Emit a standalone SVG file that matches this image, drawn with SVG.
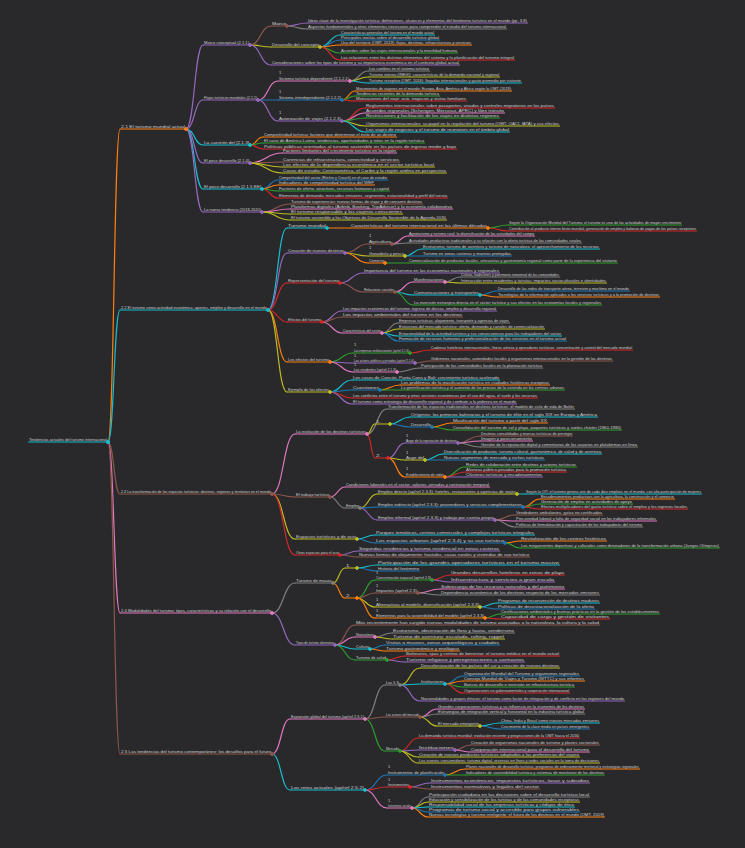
<svg xmlns="http://www.w3.org/2000/svg" width="745" height="848" viewBox="0 0 745 848">
<style>
.b{stroke:#1f77b4;fill:#1f77b4}.o{stroke:#ff7f0e;fill:#ff7f0e}.g{stroke:#2ca02c;fill:#2ca02c}.r{stroke:#d62728;fill:#d62728}.p{stroke:#9467bd;fill:#9467bd}.br{stroke:#8c564b;fill:#8c564b}.pk{stroke:#e377c2;fill:#e377c2}.gy{stroke:#7f7f7f;fill:#7f7f7f}.y{stroke:#bcbd22;fill:#bcbd22}.c{stroke:#17becf;fill:#17becf}
.l{fill:none;stroke-width:1.2;stroke-linecap:round}
.u{fill:none;stroke-width:1}
circle{stroke:none}
text{font-family:"Liberation Sans",Arial,sans-serif;font-size:4.4px;fill:#d0d0d0;stroke:none}
.n1{font-size:4px}
</style>
<rect width="745" height="848" fill="#29292b"/>
<g id="connectors">
<path class="l o" d="M108 442C114 442 114 129 120 129"/>
<path class="l c" d="M108 442C114 442 114 310 120 310"/>
<path class="l br" d="M108 442C114 442 114 494 120 494"/>
<path class="l pk" d="M108 442C114 442 114 613 120 613"/>
<path class="l br" d="M108 442C114 442 114 754 120 754"/>
<path class="l p" d="M186 129C194.5 129 194.5 45 203 45"/>
<path class="l p" d="M186 129C194.5 129 194.5 100 203 100"/>
<path class="l c" d="M186 129C194.5 129 194.5 145 203 145"/>
<path class="l p" d="M186 129C194.5 129 194.5 163 203 163"/>
<path class="l c" d="M186 129C194.5 129 194.5 189 203 189"/>
<path class="l p" d="M186 129C194.5 129 194.5 212 203 212"/>
<path class="l br" d="M250 45C260.5 45 260.5 26 271 26"/>
<path class="l y" d="M250 45C260.5 45 260.5 47 271 47"/>
<path class="l p" d="M250 45C260.5 45 260.5 65 271 65"/>
<path class="l p" d="M287 26C297 26 297 23 307 23"/>
<path class="l gy" d="M287 26C297 26 297 29 307 29"/>
<path class="l c" d="M320 47C330 47 330 35 340 35"/>
<path class="l b" d="M320 47C330 47 330 40 340 40"/>
<path class="l o" d="M320 47C330 47 330 45 340 45"/>
<path class="l g" d="M320 47C330 47 330 53 340 53"/>
<path class="l r" d="M320 47C330 47 330 60 340 60"/>
<path class="l pk" d="M258 100C268 100 268 81 278 81"/>
<path class="l b" d="M258 100H278"/>
<path class="l p" d="M258 100C268 100 268 121 278 121"/>
<path class="l gy" d="M350 81C359 81 359 71 368 71"/>
<path class="l y" d="M350 81C359 81 359 77 368 77"/>
<path class="l c" d="M350 81C359 81 359 83 368 83"/>
<path class="l o" d="M342 100C348.5 100 348.5 91 355 91"/>
<path class="l g" d="M342 100C348.5 100 348.5 96 355 96"/>
<path class="l r" d="M342 100C348.5 100 348.5 101 355 101"/>
<path class="l r" d="M342 121C353.5 121 353.5 108 365 108"/>
<path class="l pk" d="M342 121C353.5 121 353.5 113 365 113"/>
<path class="l g" d="M342 121C353.5 121 353.5 118 365 118"/>
<path class="l y" d="M342 121C353.5 121 353.5 126 365 126"/>
<path class="l c" d="M342 121C353.5 121 353.5 132 365 132"/>
<path class="l o" d="M250 145C256.5 145 256.5 137 263 137"/>
<path class="l g" d="M250 145C256.5 145 256.5 143 263 143"/>
<path class="l r" d="M250 145C256.5 145 256.5 149 263 149"/>
<path class="l pk" d="M250 163C266 163 266 153 282 153"/>
<path class="l br" d="M250 163C266 163 266 162 282 162"/>
<path class="l y" d="M250 163C266 163 266 167 282 167"/>
<path class="l y" d="M250 163C266 163 266 173 282 173"/>
<path class="l b" d="M262 189C270 189 270 180 278 180"/>
<path class="l o" d="M262 189C270 189 270 185 278 185"/>
<path class="l g" d="M262 189C270 189 270 191 278 191"/>
<path class="l r" d="M262 189C270 189 270 198 278 198"/>
<path class="l br" d="M262 212C276 212 276 204 290 204"/>
<path class="l pk" d="M262 212C276 212 276 209 290 209"/>
<path class="l y" d="M262 212C276 212 276 214 290 214"/>
<path class="l y" d="M262 212C276 212 276 220 290 220"/>
<path class="l c" d="M268 310C277.5 310 277.5 228 287 228"/>
<path class="l p" d="M268 310C277.5 310 277.5 253 287 253"/>
<path class="l r" d="M268 310C277.5 310 277.5 283 287 283"/>
<path class="l r" d="M268 310C277.5 310 277.5 322 287 322"/>
<path class="l o" d="M268 310C277.5 310 277.5 362 287 362"/>
<path class="l y" d="M268 310C277.5 310 277.5 392 287 392"/>
<path class="l o" d="M327 228H350"/>
<path class="l g" d="M488 228C498 228 498 225 508 225"/>
<path class="l r" d="M488 228C498 228 498 231 508 231"/>
<path class="l br" d="M345 253C356.5 253 356.5 244 368 244"/>
<path class="l y" d="M345 253C356.5 253 356.5 256 368 256"/>
<path class="l o" d="M345 253C356.5 253 356.5 263 368 263"/>
<path class="l pk" d="M392 244C400 244 400 236 408 236"/>
<path class="l gy" d="M392 244C400 244 400 243 408 243"/>
<path class="l c" d="M405 256C413.5 256 413.5 249 422 249"/>
<path class="l b" d="M405 256H422"/>
<path class="l g" d="M385 263H408"/>
<path class="l p" d="M340 283C351.5 283 351.5 273 363 273"/>
<path class="l br" d="M340 283C351.5 283 351.5 292 363 292"/>
<path class="l pk" d="M395 292C404 292 404 282 413 282"/>
<path class="l c" d="M395 292C404 292 404 295 413 295"/>
<path class="l g" d="M395 292C404 292 404 305 413 305"/>
<path class="l gy" d="M445 282C452.5 282 452.5 277 460 277"/>
<path class="l y" d="M445 282C452.5 282 452.5 283 460 283"/>
<path class="l b" d="M480 295C488.5 295 488.5 291 497 291"/>
<path class="l o" d="M480 295C488.5 295 488.5 297 497 297"/>
<path class="l p" d="M322 322C332 322 332 311 342 311"/>
<path class="l br" d="M322 322C332 322 332 317 342 317"/>
<path class="l pk" d="M322 322C332 322 332 333 342 333"/>
<path class="l gy" d="M382 333C390 333 390 323 398 323"/>
<path class="l y" d="M382 333C390 333 390 329 398 329"/>
<path class="l c" d="M382 333C390 333 390 336 398 336"/>
<path class="l b" d="M382 333C390 333 390 341 398 341"/>
<path class="l g" d="M330 362C341.5 362 341.5 353 353 353"/>
<path class="l p" d="M330 362C341.5 362 341.5 363 353 363"/>
<path class="l pk" d="M330 362C341.5 362 341.5 372 353 372"/>
<path class="l r" d="M410 353C420 353 420 350 430 350"/>
<path class="l br" d="M415 363C422.5 363 422.5 361 430 361"/>
<path class="l gy" d="M397 372C408.5 372 408.5 368 420 368"/>
<path class="l c" d="M330 392C341 392 341 380 352 380"/>
<path class="l b" d="M330 392C341 392 341 390 352 390"/>
<path class="l r" d="M330 392C341 392 341 398 352 398"/>
<path class="l p" d="M330 392C341 392 341 404 352 404"/>
<path class="l o" d="M380 390C390 390 390 385 400 385"/>
<path class="l g" d="M380 390H400"/>
<path class="l pk" d="M272 494C283.5 494 283.5 434 295 434"/>
<path class="l br" d="M272 494C283.5 494 283.5 497 295 497"/>
<path class="l y" d="M272 494C283.5 494 283.5 539 295 539"/>
<path class="l r" d="M272 494C283.5 494 283.5 555 295 555"/>
<path class="l gy" d="M367 434C377 434 377 409 387 409"/>
<path class="l y" d="M367 434C371 434 371 424 375 424"/>
<path class="l r" d="M367 434C371 434 371 458 375 458"/>
<path class="l c" d="M390 424C400 424 400 417 410 417"/>
<path class="l b" d="M390 424C400 424 400 427 410 427"/>
<path class="l o" d="M432 427C442 427 442 423 452 423"/>
<path class="l g" d="M432 427C442 427 442 430 452 430"/>
<path class="l p" d="M388 458C396.5 458 396.5 443 405 443"/>
<path class="l y" d="M388 458C396.5 458 396.5 460 405 460"/>
<path class="l o" d="M388 458C396.5 458 396.5 477 405 477"/>
<path class="l br" d="M458 443C469 443 469 436 480 436"/>
<path class="l pk" d="M458 443C469 443 469 441 480 441"/>
<path class="l gy" d="M458 443C469 443 469 447 480 447"/>
<path class="l c" d="M425 460C434 460 434 454 443 454"/>
<path class="l b" d="M425 460H443"/>
<path class="l g" d="M445 477C455 477 455 467 465 467"/>
<path class="l r" d="M445 477C455 477 455 472 465 472"/>
<path class="l p" d="M445 477H465"/>
<path class="l pk" d="M330 497C337.5 497 337.5 487 345 487"/>
<path class="l gy" d="M330 497C337.5 497 337.5 508 345 508"/>
<path class="l y" d="M360 508C368.5 508 368.5 494 377 494"/>
<path class="l b" d="M360 508C368.5 508 368.5 507 377 507"/>
<path class="l p" d="M360 508C368.5 508 368.5 520 377 520"/>
<path class="l c" d="M517 494H525"/>
<path class="l o" d="M523 507C531.5 507 531.5 499 540 499"/>
<path class="l g" d="M523 507C531.5 507 531.5 504 540 504"/>
<path class="l r" d="M523 507C531.5 507 531.5 509 540 509"/>
<path class="l br" d="M495 520C505 520 505 515 515 515"/>
<path class="l pk" d="M495 520C505 520 505 521 515 521"/>
<path class="l gy" d="M495 520C505 520 505 527 515 527"/>
<path class="l c" d="M357 539C366 539 366 535 375 535"/>
<path class="l b" d="M357 539C366 539 366 543 375 543"/>
<path class="l o" d="M505 543C512.5 543 512.5 541 520 541"/>
<path class="l g" d="M505 543C512.5 543 512.5 548 520 548"/>
<path class="l p" d="M340 555C349 555 349 551 358 551"/>
<path class="l br" d="M340 555C349 555 349 557 358 557"/>
<path class="l gy" d="M272 613C283.5 613 283.5 583 295 583"/>
<path class="l p" d="M272 613C283.5 613 283.5 645 295 645"/>
<path class="l y" d="M333 583C339 583 339 568 345 568"/>
<path class="l o" d="M333 583C339 583 339 598 345 598"/>
<path class="l c" d="M357 568C367 568 367 565 377 565"/>
<path class="l b" d="M357 568C367 568 367 571 377 571"/>
<path class="l g" d="M357 598C366 598 366 580 375 580"/>
<path class="l br" d="M357 598C366 598 366 593 375 593"/>
<path class="l y" d="M357 598C366 598 366 607 375 607"/>
<path class="l o" d="M357 598C366 598 366 618 375 618"/>
<path class="l r" d="M432 580C441 580 441 575 450 575"/>
<path class="l p" d="M432 580C441 580 441 582 450 582"/>
<path class="l pk" d="M418 593C429 593 429 589 440 589"/>
<path class="l gy" d="M418 593C429 593 429 595 440 595"/>
<path class="l c" d="M480 607C488.5 607 488.5 603 497 603"/>
<path class="l b" d="M480 607C488.5 607 488.5 609 497 609"/>
<path class="l g" d="M485 618C492.5 618 492.5 614 500 614"/>
<path class="l r" d="M485 618C492.5 618 492.5 619 500 619"/>
<path class="l br" d="M335 645C345 645 345 625 355 625"/>
<path class="l pk" d="M335 645C345 645 345 637 355 637"/>
<path class="l c" d="M335 645C345 645 345 649 355 649"/>
<path class="l g" d="M335 645C345 645 345 660 355 660"/>
<path class="l gy" d="M375 637C383.5 637 383.5 633 392 633"/>
<path class="l y" d="M375 637C383.5 637 383.5 639 392 639"/>
<path class="l b" d="M370 649C377.5 649 377.5 645 385 645"/>
<path class="l o" d="M370 649C377.5 649 377.5 651 385 651"/>
<path class="l r" d="M387 660C396 660 396 656 405 656"/>
<path class="l p" d="M387 660C396 660 396 662 405 662"/>
<path class="l pk" d="M272 754C281 754 281 719 290 719"/>
<path class="l c" d="M272 754C281 754 281 790 290 790"/>
<path class="l gy" d="M365 719C375 719 375 685 385 685"/>
<path class="l br" d="M365 719C375 719 375 717 385 717"/>
<path class="l g" d="M365 719C375 719 375 751 385 751"/>
<path class="l y" d="M400 685C410 685 410 668 420 668"/>
<path class="l c" d="M400 685C410 685 410 684 420 684"/>
<path class="l p" d="M400 685C410 685 410 701 420 701"/>
<path class="l b" d="M445 684C454 684 454 676 463 676"/>
<path class="l o" d="M445 684C454 684 454 681 463 681"/>
<path class="l g" d="M445 684C454 684 454 687 463 687"/>
<path class="l r" d="M445 684C454 684 454 693 463 693"/>
<path class="l pk" d="M420 717C428.5 717 428.5 709 437 709"/>
<path class="l gy" d="M420 717C428.5 717 428.5 714 437 714"/>
<path class="l y" d="M420 717C428.5 717 428.5 726 437 726"/>
<path class="l c" d="M480 726C490 726 490 723 500 723"/>
<path class="l b" d="M480 726C490 726 490 729 500 729"/>
<path class="l r" d="M400 751C409 751 409 738 418 738"/>
<path class="l p" d="M400 751C409 751 409 750 418 750"/>
<path class="l y" d="M400 751C409 751 409 757 418 757"/>
<path class="l y" d="M400 751C409 751 409 763 418 763"/>
<path class="l br" d="M455 750C462.5 750 462.5 745 470 745"/>
<path class="l pk" d="M455 750C462.5 750 462.5 752 470 752"/>
<path class="l b" d="M365 790C376 790 376 775 387 775"/>
<path class="l r" d="M365 790C376 790 376 787 387 787"/>
<path class="l pk" d="M365 790C376 790 376 808 387 808"/>
<path class="l o" d="M445 775C455 775 455 769 465 769"/>
<path class="l g" d="M445 775H465"/>
<path class="l p" d="M410 787C420 787 420 783 430 783"/>
<path class="l br" d="M410 787C420 787 420 789 430 789"/>
<path class="l gy" d="M412 808C420 808 420 797 428 797"/>
<path class="l y" d="M412 808C420 808 420 802 428 802"/>
<path class="l c" d="M412 808C420 808 420 807 428 807"/>
<path class="l b" d="M412 808C420 808 420 812 428 812"/>
<path class="l o" d="M412 808C420 808 420 817 428 817"/>
</g>
<g id="root"><path class="u c" d="M28 442H108"/><text x="29" y="440.6" textLength="78" lengthAdjust="spacingAndGlyphs">Tendencias actuales del turismo internacional</text><circle class="c" cx="108" cy="442" r="1.6"/></g>
<g id="A"><path class="u o" d="M120 129H186"/><text x="121" y="127.6" textLength="64" lengthAdjust="spacingAndGlyphs">2.1 El turismo mundial actual</text><circle class="o" cx="186" cy="129" r="1.5"/></g>
<g id="A1"><path class="u p" d="M203 45H250"/><text x="204" y="43.6" textLength="45" lengthAdjust="spacingAndGlyphs">Marco conceptual (2.1.1)</text><circle class="p" cx="250" cy="45" r="1.5"/></g>
<g id="A1a"><path class="u br" d="M271 26H287"/><text x="272" y="24.6" textLength="14" lengthAdjust="spacingAndGlyphs">Marco</text><circle class="br" cx="287" cy="26" r="1.4"/></g>
<g id="A1a1"><path class="u p" d="M307 23H528"/><text x="308" y="21.6" textLength="219" lengthAdjust="spacingAndGlyphs">Ideas clave de la investigación turística: definiciones, alcances y elementos del fenómeno turístico en el mundo (pp. 3-8)</text></g>
<g id="A1a2"><path class="u gy" d="M307 29H507"/><text x="308" y="27.6" textLength="198" lengthAdjust="spacingAndGlyphs">Aspectos fundamentales y otros elementos necesarios para comprender el estudio del turismo internacional</text></g>
<g id="A1b"><path class="u y" d="M271 47H320"/><text x="272" y="45.6" textLength="47" lengthAdjust="spacingAndGlyphs">Desarrollo del concepto</text><circle class="y" cx="320" cy="47" r="1.4"/></g>
<g id="A1b1"><path class="u c" d="M340 35H435"/><text x="341" y="33.6" textLength="93" lengthAdjust="spacingAndGlyphs">Características generales del turismo en el mundo actual</text></g>
<g id="A1b2"><path class="u b" d="M340 40H440"/><text x="341" y="38.6" textLength="98" lengthAdjust="spacingAndGlyphs">Principales teorías sobre el desarrollo turístico global</text></g>
<g id="A1b3"><path class="u o" d="M340 45H472"/><text x="341" y="43.6" textLength="130" lengthAdjust="spacingAndGlyphs">Uso del territorio (OMT, 2019): flujos, destinos, infraestructura y servicios</text></g>
<g id="A1b4"><path class="u g" d="M340 53H458"/><text x="341" y="51.6" textLength="116" lengthAdjust="spacingAndGlyphs">Acuerdos sobre los viajes internacionales y la movilidad humana</text></g>
<g id="A1b5"><path class="u r" d="M340 60H515"/><text x="341" y="58.6" textLength="173" lengthAdjust="spacingAndGlyphs">Las relaciones entre los distintos elementos del sistema y la planificación del turismo integral</text></g>
<g id="A1c"><path class="u p" d="M271 65H460"/><text x="272" y="63.6" textLength="187" lengthAdjust="spacingAndGlyphs">Consideraciones sobre los tipos de turismo y su importancia económica en el contexto global actual</text></g>
<g id="A2"><path class="u p" d="M203 100H258"/><text x="204" y="98.6" textLength="53" lengthAdjust="spacingAndGlyphs">Flujos turísticos mundiales (2.1.2)</text><circle class="p" cx="258" cy="100" r="1.5"/></g>
<g id="A2a"><path class="u pk" d="M278 81H350"/><text class="n1" x="279" y="74">1</text><text x="279" y="79.6" textLength="70" lengthAdjust="spacingAndGlyphs">Sistema turístico dependiente (2.1.2.1)</text><circle class="pk" cx="350" cy="81" r="1.4"/></g>
<g id="A2a1"><path class="u gy" d="M368 71H430"/><text x="369" y="69.6" textLength="60" lengthAdjust="spacingAndGlyphs">Los cambios en el sistema turístico</text></g>
<g id="A2a2"><path class="u y" d="M368 77H500"/><text x="369" y="75.6" textLength="130" lengthAdjust="spacingAndGlyphs">Turismo interno (INEGI): características de la demanda nacional y regional</text></g>
<g id="A2a3"><path class="u c" d="M368 83H522"/><text x="369" y="81.6" textLength="152" lengthAdjust="spacingAndGlyphs">Turismo receptivo (OMT, 2018): llegadas internacionales y gasto promedio por visitante</text></g>
<g id="A2b"><path class="u b" d="M278 100H342"/><text class="n1" x="279" y="93">1</text><text x="279" y="98.6" textLength="62" lengthAdjust="spacingAndGlyphs">Sistema interdependiente (2.1.2.2)</text><circle class="b" cx="342" cy="100" r="1.4"/></g>
<g id="A2b1"><path class="u o" d="M355 91H512"/><text x="356" y="89.6" textLength="155" lengthAdjust="spacingAndGlyphs">Movimientos de viajeros en el mundo: Europa, Asia, América y África según la OMT (2019)</text></g>
<g id="A2b2"><path class="u g" d="M355 96H440"/><text x="356" y="94.6" textLength="83" lengthAdjust="spacingAndGlyphs">Tendencias recientes de la demanda turística</text></g>
<g id="A2b3"><path class="u r" d="M355 101H467"/><text x="356" y="99.6" textLength="110" lengthAdjust="spacingAndGlyphs">Motivaciones del viaje: ocio, negocios y visitas familiares</text></g>
<g id="A2c"><path class="u p" d="M278 121H342"/><text class="n1" x="279" y="114">1</text><text x="279" y="119.6" textLength="62" lengthAdjust="spacingAndGlyphs">Autorización de viajes (2.1.2.3)</text><circle class="p" cx="342" cy="121" r="1.4"/></g>
<g id="A2c1"><path class="u r" d="M365 108H555"/><text x="366" y="106.6" textLength="188" lengthAdjust="spacingAndGlyphs">Reglamentos internacionales sobre pasaportes, visados y controles migratorios en los países</text></g>
<g id="A2c2"><path class="u pk" d="M365 113H505"/><text x="366" y="111.6" textLength="138" lengthAdjust="spacingAndGlyphs">Acuerdos regionales (Schengen, Mercosur, APEC) y libre tránsito</text></g>
<g id="A2c3"><path class="u g" d="M365 118H500"/><text x="366" y="116.6" textLength="133" lengthAdjust="spacingAndGlyphs">Restricciones y facilitación de los viajes en distintas regiones</text></g>
<g id="A2c4"><path class="u y" d="M365 126H560"/><text x="366" y="124.6" textLength="193" lengthAdjust="spacingAndGlyphs">Organismos internacionales: su papel en la regulación del turismo (OMT, OACI, IATA) y sus efectos</text></g>
<g id="A2c5"><path class="u c" d="M365 132H510"/><text x="366" y="130.6" textLength="143" lengthAdjust="spacingAndGlyphs">Los viajes de negocios y el turismo de reuniones en el ámbito global</text></g>
<g id="A3"><path class="u c" d="M203 145H250"/><text x="204" y="143.6" textLength="45" lengthAdjust="spacingAndGlyphs">La cuestión del [2.1.3]</text><circle class="c" cx="250" cy="145" r="1.5"/></g>
<g id="A3a"><path class="u o" d="M263 137H397"/><text x="264" y="135.6" textLength="132" lengthAdjust="spacingAndGlyphs">Competitividad turística: factores que determinan el éxito de un destino</text></g>
<g id="A3b"><path class="u g" d="M263 143H425"/><text x="264" y="141.6" textLength="160" lengthAdjust="spacingAndGlyphs">El caso de América Latina: tendencias, oportunidades y retos en la región turística</text></g>
<g id="A3c"><path class="u r" d="M263 149H457"/><text x="264" y="147.6" textLength="192" lengthAdjust="spacingAndGlyphs">Políticas públicas orientadas al turismo sostenible en los países de ingreso medio y bajo</text></g>
<g id="A4"><path class="u p" d="M203 163H250"/><text x="204" y="161.6" textLength="45" lengthAdjust="spacingAndGlyphs">El poco desarrollo [2.1.4]</text><circle class="p" cx="250" cy="163" r="1.5"/></g>
<g id="A4a"><path class="u pk" d="M282 153H397"/><text x="283" y="151.6" textLength="113" lengthAdjust="spacingAndGlyphs">Factores limitantes del crecimiento turístico en la región</text></g>
<g id="A4b"><path class="u br" d="M282 162H400"/><text x="283" y="160.6" textLength="116" lengthAdjust="spacingAndGlyphs">Carencias de infraestructura, conectividad y servicios</text></g>
<g id="A4c"><path class="u y" d="M282 167H435"/><text x="283" y="165.6" textLength="151" lengthAdjust="spacingAndGlyphs">Los efectos de la dependencia económica en el sector turístico local</text></g>
<g id="A4d"><path class="u y" d="M282 173H447"/><text x="283" y="171.6" textLength="163" lengthAdjust="spacingAndGlyphs">Casos de estudio: Centroamérica, el Caribe y la región andina en perspectiva</text></g>
<g id="A5"><path class="u c" d="M203 189H262"/><text x="204" y="187.6" textLength="57" lengthAdjust="spacingAndGlyphs">El poco desarrollo [2.1.5 EE]</text><circle class="c" cx="262" cy="189" r="1.5"/></g>
<g id="A5a"><path class="u b" d="M278 180H388"/><text x="279" y="178.6" textLength="108" lengthAdjust="spacingAndGlyphs">Competitividad del sector (Ritchie y Crouch) en el caso de estudio</text></g>
<g id="A5b"><path class="u o" d="M278 185H375"/><text x="279" y="183.6" textLength="95" lengthAdjust="spacingAndGlyphs">Indicadores de competitividad turística del WEF</text></g>
<g id="A5c"><path class="u g" d="M278 191H390"/><text x="279" y="189.6" textLength="110" lengthAdjust="spacingAndGlyphs">Factores de oferta: atractivos, recursos humanos y capital</text></g>
<g id="A5d"><path class="u r" d="M278 198H448"/><text x="279" y="196.6" textLength="168" lengthAdjust="spacingAndGlyphs">Elementos de demanda: mercados emisores, segmentos, estacionalidad y perfil del turista</text></g>
<g id="A6"><path class="u p" d="M203 212H262"/><text x="204" y="210.6" textLength="57" lengthAdjust="spacingAndGlyphs">La nueva tendencia (2018-2020)</text><circle class="p" cx="262" cy="212" r="1.5"/></g>
<g id="A6a"><path class="u br" d="M290 204H423"/><text x="291" y="202.6" textLength="131" lengthAdjust="spacingAndGlyphs">Turismo de experiencias: nuevas formas de viajar y de consumir destinos</text></g>
<g id="A6b"><path class="u pk" d="M290 209H453"/><text x="291" y="207.6" textLength="161" lengthAdjust="spacingAndGlyphs">Plataformas digitales (Airbnb, Booking, TripAdvisor) y la economía colaborativa</text></g>
<g id="A6c"><path class="u y" d="M290 214H403"/><text x="291" y="212.6" textLength="111" lengthAdjust="spacingAndGlyphs">El turismo responsable y los viajeros conscientes</text></g>
<g id="A6d"><path class="u y" d="M290 220H447"/><text x="291" y="218.6" textLength="155" lengthAdjust="spacingAndGlyphs">El turismo sostenible y los Objetivos de Desarrollo Sostenible de la Agenda 2030</text></g>
<g id="B"><path class="u c" d="M120 310H268"/><text x="121" y="308.6" textLength="146" lengthAdjust="spacingAndGlyphs">2.2 El turismo como actividad económica: aportes, empleo y desarrollo en el mundo</text><circle class="c" cx="268" cy="310" r="1.5"/></g>
<g id="B1"><path class="u c" d="M287 228H327"/><text x="288" y="226.6" textLength="38" lengthAdjust="spacingAndGlyphs">Turismo mundial</text><circle class="c" cx="327" cy="228" r="1.4"/></g>
<g id="B1a"><path class="u o" d="M350 228H488"/><text x="351" y="226.6" textLength="136" lengthAdjust="spacingAndGlyphs">Características del turismo internacional en las últimas décadas</text><circle class="o" cx="488" cy="228" r="1.4"/></g>
<g id="B1a1"><path class="u g" d="M508 225H682"/><text x="509" y="223.6" textLength="172" lengthAdjust="spacingAndGlyphs">Según la Organización Mundial del Turismo, el turismo es una de las actividades de mayor crecimiento</text></g>
<g id="B1a2"><path class="u r" d="M508 231H697"/><text x="509" y="229.6" textLength="187" lengthAdjust="spacingAndGlyphs">Contribución al producto interno bruto mundial, generación de empleo y balanza de pagos de los países receptores</text></g>
<g id="B2"><path class="u p" d="M287 253H345"/><text x="288" y="251.6" textLength="56" lengthAdjust="spacingAndGlyphs">Creación de nuevos destinos</text><circle class="p" cx="345" cy="253" r="1.4"/></g>
<g id="B2a"><path class="u br" d="M368 244H392"/><text class="n1" x="369" y="237">1</text><text x="369" y="242.6" textLength="22" lengthAdjust="spacingAndGlyphs">Agricultura</text><circle class="br" cx="392" cy="244" r="1.4"/></g>
<g id="B2a1"><path class="u pk" d="M408 236H535"/><text x="409" y="234.6" textLength="125" lengthAdjust="spacingAndGlyphs">Agroturismo y turismo rural: la diversificación de las actividades del campo</text></g>
<g id="B2a2"><path class="u gy" d="M408 243H582"/><text x="409" y="241.6" textLength="172" lengthAdjust="spacingAndGlyphs">Actividades productivas tradicionales y su relación con la oferta turística de las comunidades rurales</text></g>
<g id="B2b"><path class="u y" d="M368 256H405"/><text class="n1" x="369" y="249">1</text><text x="369" y="254.6" textLength="35" lengthAdjust="spacingAndGlyphs">Ganadería y pesca</text><circle class="y" cx="405" cy="256" r="1.4"/></g>
<g id="B2b1"><path class="u c" d="M422 249H600"/><text x="423" y="247.6" textLength="176" lengthAdjust="spacingAndGlyphs">Ecoturismo, turismo de aventura y turismo de naturaleza: el aprovechamiento de los recursos</text></g>
<g id="B2b2"><path class="u b" d="M422 256H512"/><text x="423" y="254.6" textLength="88" lengthAdjust="spacingAndGlyphs">Turismo en zonas costeras y marinas protegidas</text></g>
<g id="B2c"><path class="u o" d="M368 263H385"/><text x="369" y="261.6" textLength="15" lengthAdjust="spacingAndGlyphs">Comercio</text><circle class="o" cx="385" cy="263" r="1.4"/></g>
<g id="B2c1"><path class="u g" d="M408 263H618"/><text x="409" y="261.6" textLength="208" lengthAdjust="spacingAndGlyphs">Comercialización de productos locales, artesanías y gastronomía regional como parte de la experiencia del visitante</text></g>
<g id="B3"><path class="u r" d="M287 283H340"/><text x="288" y="281.6" textLength="51" lengthAdjust="spacingAndGlyphs">Representación del turismo</text><circle class="r" cx="340" cy="283" r="1.4"/></g>
<g id="B3a"><path class="u p" d="M363 273H500"/><text x="364" y="271.6" textLength="135" lengthAdjust="spacingAndGlyphs">Importancia del turismo en las economías nacionales y regionales</text></g>
<g id="B3b"><path class="u br" d="M363 292H395"/><text x="364" y="290.6" textLength="30" lengthAdjust="spacingAndGlyphs">Relaciones sociales</text><circle class="br" cx="395" cy="292" r="1.4"/></g>
<g id="B3b1"><path class="u pk" d="M413 282H445"/><text x="414" y="280.6" textLength="30" lengthAdjust="spacingAndGlyphs">Manifestaciones</text><circle class="pk" cx="445" cy="282" r="1.4"/></g>
<g id="B3b1a"><path class="u gy" d="M460 277H560"/><text x="461" y="275.6" textLength="98" lengthAdjust="spacingAndGlyphs">Cultura, tradiciones y patrimonio inmaterial de las comunidades</text></g>
<g id="B3b1b"><path class="u y" d="M460 283H607"/><text x="461" y="281.6" textLength="145" lengthAdjust="spacingAndGlyphs">Interacción entre residentes y turistas: impactos socioculturales e identidades</text></g>
<g id="B3b2"><path class="u c" d="M413 295H480"/><text x="414" y="293.6" textLength="65" lengthAdjust="spacingAndGlyphs">Comunicaciones y transportes</text><circle class="c" cx="480" cy="295" r="1.4"/></g>
<g id="B3b2a"><path class="u b" d="M497 291H630"/><text x="498" y="289.6" textLength="131" lengthAdjust="spacingAndGlyphs">Desarrollo de las redes de transporte aéreo, terrestre y marítimo en el mundo</text></g>
<g id="B3b2b"><path class="u o" d="M497 297H660"/><text x="498" y="295.6" textLength="161" lengthAdjust="spacingAndGlyphs">Tecnologías de la información aplicadas a los servicios turísticos y a la promoción de destinos</text></g>
<g id="B3b3"><path class="u g" d="M413 305H602"/><text x="414" y="303.6" textLength="187" lengthAdjust="spacingAndGlyphs">La inversión extranjera directa en el sector turístico y sus efectos en las economías locales y regionales</text></g>
<g id="B4"><path class="u r" d="M287 322H322"/><text x="288" y="320.6" textLength="33" lengthAdjust="spacingAndGlyphs">Efectos del turismo</text><circle class="r" cx="322" cy="322" r="1.4"/></g>
<g id="B4a"><path class="u p" d="M342 311H497"/><text x="343" y="309.6" textLength="153" lengthAdjust="spacingAndGlyphs">Los impactos económicos del turismo: ingreso de divisas, empleo y desarrollo regional</text></g>
<g id="B4b"><path class="u br" d="M342 317H463"/><text x="343" y="315.6" textLength="119" lengthAdjust="spacingAndGlyphs">Los impactos ambientales del turismo en los destinos</text></g>
<g id="B4c"><path class="u pk" d="M342 333H382"/><text x="343" y="331.6" textLength="38" lengthAdjust="spacingAndGlyphs">Características del sector</text><circle class="pk" cx="382" cy="333" r="1.4"/></g>
<g id="B4c1"><path class="u gy" d="M398 323H510"/><text x="399" y="321.6" textLength="110" lengthAdjust="spacingAndGlyphs">Empresas turísticas: alojamiento, transporte y agencias de viajes</text></g>
<g id="B4c2"><path class="u y" d="M398 329H545"/><text x="399" y="327.6" textLength="145" lengthAdjust="spacingAndGlyphs">Estructura del mercado turístico: oferta, demanda y canales de comercialización</text></g>
<g id="B4c3"><path class="u c" d="M398 336H562"/><text x="399" y="334.6" textLength="162" lengthAdjust="spacingAndGlyphs">Estacionalidad de la actividad turística y sus consecuencias para los trabajadores del sector</text></g>
<g id="B4c4"><path class="u b" d="M398 341H567"/><text x="399" y="339.6" textLength="167" lengthAdjust="spacingAndGlyphs">Formación de recursos humanos y profesionalización de los servicios en el turismo actual</text></g>
<g id="B5"><path class="u o" d="M287 362H330"/><text x="288" y="360.6" textLength="41" lengthAdjust="spacingAndGlyphs">Los efectos del turismo</text><circle class="o" cx="330" cy="362" r="1.4"/></g>
<g id="B5a"><path class="u g" d="M353 353H410"/><text class="n1" x="354" y="346">1</text><text x="354" y="351.6" textLength="55" lengthAdjust="spacingAndGlyphs">Las empresas multinacionales (ap/ref 2.1.6)</text><circle class="g" cx="410" cy="353" r="1.4"/></g>
<g id="B5a1"><path class="u r" d="M430 350H633"/><text x="431" y="348.6" textLength="201" lengthAdjust="spacingAndGlyphs">Cadenas hoteleras internacionales, líneas aéreas y operadores turísticos: concentración y control del mercado mundial</text></g>
<g id="B5b"><path class="u p" d="M353 363H415"/><text class="n1" x="354" y="357">1</text><text x="354" y="361.6" textLength="60" lengthAdjust="spacingAndGlyphs">Los actores públicos y privados (ap/ref 2.1.6)</text><circle class="p" cx="415" cy="363" r="1.4"/></g>
<g id="B5b1"><path class="u br" d="M430 361H613"/><text x="431" y="359.6" textLength="181" lengthAdjust="spacingAndGlyphs">Gobiernos nacionales, autoridades locales y organismos internacionales en la gestión de los destinos</text></g>
<g id="B5c"><path class="u pk" d="M353 372H397"/><text class="n1" x="354" y="366">1</text><text x="354" y="370.6" textLength="42" lengthAdjust="spacingAndGlyphs">Los residentes (ap/ref 2.1.3)</text><circle class="pk" cx="397" cy="372" r="1.4"/></g>
<g id="B5c1"><path class="u gy" d="M420 368H543"/><text x="421" y="366.6" textLength="121" lengthAdjust="spacingAndGlyphs">Participación de las comunidades locales en la planeación turística</text></g>
<g id="B6"><path class="u y" d="M287 392H330"/><text x="288" y="390.6" textLength="41" lengthAdjust="spacingAndGlyphs">Ejemplo de los efectos</text><circle class="y" cx="330" cy="392" r="1.4"/></g>
<g id="B6a"><path class="u c" d="M352 380H500"/><text x="353" y="378.6" textLength="146" lengthAdjust="spacingAndGlyphs">Los casos de Cancún, Punta Cana y Bali: crecimiento turístico acelerado</text></g>
<g id="B6b"><path class="u b" d="M352 390H380"/><text x="353" y="388.6" textLength="26" lengthAdjust="spacingAndGlyphs">Cuestiones</text><circle class="b" cx="380" cy="390" r="1.4"/></g>
<g id="B6b1"><path class="u o" d="M400 385H550"/><text x="401" y="383.6" textLength="148" lengthAdjust="spacingAndGlyphs">Los problemas de la masificación turística en ciudades históricas europeas</text></g>
<g id="B6b2"><path class="u g" d="M400 390H565"/><text x="401" y="388.6" textLength="163" lengthAdjust="spacingAndGlyphs">La gentrificación turística y el aumento de los precios de la vivienda en los centros urbanos</text></g>
<g id="B6c"><path class="u r" d="M352 398H538"/><text x="353" y="396.6" textLength="184" lengthAdjust="spacingAndGlyphs">Los conflictos entre el turismo y otros sectores económicos por el uso del agua, el suelo y los recursos</text></g>
<g id="B6d"><path class="u p" d="M352 404H517"/><text x="353" y="402.6" textLength="163" lengthAdjust="spacingAndGlyphs">El turismo como estrategia de desarrollo regional y de combate a la pobreza en el mundo</text></g>
<g id="C"><path class="u br" d="M120 494H272"/><text x="121" y="492.6" textLength="150" lengthAdjust="spacingAndGlyphs">2.3 La transformación de los espacios turísticos: destinos, regiones y territorios en el mundo</text><circle class="br" cx="272" cy="494" r="1.5"/></g>
<g id="C1"><path class="u pk" d="M295 434H367"/><text x="296" y="432.6" textLength="70" lengthAdjust="spacingAndGlyphs">La evolución de los destinos turísticos</text><circle class="pk" cx="367" cy="434" r="1.4"/></g>
<g id="C1a"><path class="u gy" d="M387 409H575"/><text x="388" y="407.6" textLength="186" lengthAdjust="spacingAndGlyphs">Transformación de los espacios tradicionales en destinos turísticos: el modelo de ciclo de vida de Butler</text></g>
<g id="C1b"><path class="u y" d="M375 424H390"/><text x="376" y="422.6" textLength="5" lengthAdjust="spacingAndGlyphs">1.</text><circle class="y" cx="390" cy="424" r="1.4"/></g>
<g id="C1b1"><path class="u c" d="M410 417H598"/><text x="411" y="415.6" textLength="186" lengthAdjust="spacingAndGlyphs">Orígenes: los primeros balnearios y el turismo de élite en el siglo XIX en Europa y América</text></g>
<g id="C1b2"><path class="u b" d="M410 427H432"/><text x="411" y="425.6" textLength="20" lengthAdjust="spacingAndGlyphs">Desarrollo</text><circle class="b" cx="432" cy="427" r="1.4"/></g>
<g id="C1b2a"><path class="u o" d="M452 423H548"/><text x="453" y="421.6" textLength="94" lengthAdjust="spacingAndGlyphs">Masificación del turismo a partir del siglo XX</text></g>
<g id="C1b2b"><path class="u g" d="M452 430H622"/><text x="453" y="428.6" textLength="168" lengthAdjust="spacingAndGlyphs">Consolidación del turismo de sol y playa, paquetes turísticos y vuelos chárter (1960-1980)</text></g>
<g id="C1c"><path class="u r" d="M375 458H388"/><text x="376" y="456.6" textLength="5" lengthAdjust="spacingAndGlyphs">2.</text><circle class="r" cx="388" cy="458" r="1.4"/></g>
<g id="C1c1"><path class="u p" d="M405 443H458"/><text class="n1" x="406" y="437">1</text><text x="406" y="441.6" textLength="51" lengthAdjust="spacingAndGlyphs">Auge de la reputación de destinos</text><circle class="p" cx="458" cy="443" r="1.4"/></g>
<g id="C1c1a"><path class="u br" d="M480 436H573"/><text x="481" y="434.6" textLength="91" lengthAdjust="spacingAndGlyphs">Destinos consolidados y marcas turísticas de prestigio</text></g>
<g id="C1c1b"><path class="u pk" d="M480 441H533"/><text x="481" y="439.6" textLength="51" lengthAdjust="spacingAndGlyphs">Imagen y posicionamiento</text></g>
<g id="C1c1c"><path class="u gy" d="M480 447H638"/><text x="481" y="445.6" textLength="156" lengthAdjust="spacingAndGlyphs">Gestión de la reputación digital y comentarios de los usuarios en plataformas en línea</text></g>
<g id="C1c2"><path class="u y" d="M405 460H425"/><text class="n1" x="406" y="454">1</text><text x="406" y="458.6" textLength="18" lengthAdjust="spacingAndGlyphs">Auge del</text><circle class="y" cx="425" cy="460" r="1.4"/></g>
<g id="C1c2a"><path class="u c" d="M443 454H602"/><text x="444" y="452.6" textLength="157" lengthAdjust="spacingAndGlyphs">Diversificación de productos: turismo cultural, gastronómico, de salud y de aventura</text></g>
<g id="C1c2b"><path class="u b" d="M443 460H545"/><text x="444" y="458.6" textLength="100" lengthAdjust="spacingAndGlyphs">Nuevos segmentos de mercado y nichos turísticos</text></g>
<g id="C1c3"><path class="u o" d="M405 477H445"/><text class="n1" x="406" y="470">1</text><text x="406" y="475.6" textLength="38" lengthAdjust="spacingAndGlyphs">Establecimiento de redes</text><circle class="o" cx="445" cy="477" r="1.4"/></g>
<g id="C1c3a"><path class="u g" d="M465 467H577"/><text x="466" y="465.6" textLength="110" lengthAdjust="spacingAndGlyphs">Redes de colaboración entre destinos y actores turísticos</text></g>
<g id="C1c3b"><path class="u r" d="M465 472H567"/><text x="466" y="470.6" textLength="100" lengthAdjust="spacingAndGlyphs">Alianzas público-privadas para la promoción turística</text></g>
<g id="C1c3c"><path class="u p" d="M465 477H543"/><text x="466" y="475.6" textLength="76" lengthAdjust="spacingAndGlyphs">Clústeres turísticos y encadenamientos</text></g>
<g id="C2"><path class="u br" d="M295 497H330"/><text x="296" y="495.6" textLength="33" lengthAdjust="spacingAndGlyphs">El trabajo turístico</text><circle class="br" cx="330" cy="497" r="1.4"/></g>
<g id="C2a"><path class="u pk" d="M345 487H490"/><text x="346" y="485.6" textLength="143" lengthAdjust="spacingAndGlyphs">Condiciones laborales en el sector: salarios, jornadas y contratación temporal</text></g>
<g id="C2b"><path class="u gy" d="M345 508H360"/><text x="346" y="506.6" textLength="13" lengthAdjust="spacingAndGlyphs">Empleo</text><circle class="gy" cx="360" cy="508" r="1.4"/></g>
<g id="C2b1"><path class="u y" d="M377 494H517"/><text x="378" y="492.6" textLength="138" lengthAdjust="spacingAndGlyphs">Empleo directo (ap/ref 2.3.3): hoteles, restaurantes y agencias de viajes</text><circle class="y" cx="517" cy="494" r="1.4"/></g>
<g id="C2b1a"><path class="u c" d="M525 494H702"/><text x="526" y="492.6" textLength="175" lengthAdjust="spacingAndGlyphs">Según la OIT, el turismo genera uno de cada diez empleos en el mundo, con alta participación de mujeres</text></g>
<g id="C2b2"><path class="u b" d="M377 507H523"/><text x="378" y="505.6" textLength="144" lengthAdjust="spacingAndGlyphs">Empleo indirecto (ap/ref 2.3.3): proveedores y servicios complementarios</text><circle class="b" cx="523" cy="507" r="1.4"/></g>
<g id="C2b2a"><path class="u o" d="M540 499H675"/><text x="541" y="497.6" textLength="133" lengthAdjust="spacingAndGlyphs">Encadenamientos productivos con la agricultura, la construcción y el comercio</text></g>
<g id="C2b2b"><path class="u g" d="M540 504H633"/><text x="541" y="502.6" textLength="91" lengthAdjust="spacingAndGlyphs">Generación de empleo en actividades de apoyo</text></g>
<g id="C2b2c"><path class="u r" d="M540 509H688"/><text x="541" y="507.6" textLength="146" lengthAdjust="spacingAndGlyphs">Efectos multiplicadores del gasto turístico sobre el empleo y los ingresos locales</text></g>
<g id="C2b3"><path class="u p" d="M377 520H495"/><text x="378" y="518.6" textLength="116" lengthAdjust="spacingAndGlyphs">Empleo informal (ap/ref 2.3.3) y trabajo por cuenta propia</text><circle class="p" cx="495" cy="520" r="1.4"/></g>
<g id="C2b3a"><path class="u br" d="M515 515H603"/><text x="516" y="513.6" textLength="86" lengthAdjust="spacingAndGlyphs">Vendedores ambulantes, guías no certificados</text></g>
<g id="C2b3b"><path class="u pk" d="M515 521H657"/><text x="516" y="519.6" textLength="140" lengthAdjust="spacingAndGlyphs">Precariedad laboral y falta de seguridad social en los trabajadores informales</text></g>
<g id="C2b3c"><path class="u gy" d="M515 527H643"/><text x="516" y="525.6" textLength="126" lengthAdjust="spacingAndGlyphs">Políticas de formalización y capacitación de los trabajadores del turismo</text></g>
<g id="C3"><path class="u y" d="M295 539H357"/><text x="296" y="537.6" textLength="60" lengthAdjust="spacingAndGlyphs">Espacios turísticos y de ocio</text><circle class="y" cx="357" cy="539" r="1.4"/></g>
<g id="C3a"><path class="u c" d="M375 535H535"/><text x="376" y="533.6" textLength="158" lengthAdjust="spacingAndGlyphs">Parques temáticos, centros comerciales y complejos turísticos integrales</text></g>
<g id="C3b"><path class="u b" d="M375 543H505"/><text x="376" y="541.6" textLength="128" lengthAdjust="spacingAndGlyphs">Los espacios urbanos (ap/ref 2.3.4) y su uso turístico</text><circle class="b" cx="505" cy="543" r="1.4"/></g>
<g id="C3b1"><path class="u o" d="M520 541H607"/><text x="521" y="539.6" textLength="85" lengthAdjust="spacingAndGlyphs">Revitalización de los centros históricos</text></g>
<g id="C3b2"><path class="u g" d="M520 548H720"/><text x="521" y="546.6" textLength="198" lengthAdjust="spacingAndGlyphs">Los megaeventos deportivos y culturales como detonadores de la transformación urbana (Juegos Olímpicos)</text></g>
<g id="C4"><path class="u r" d="M295 555H340"/><text x="296" y="553.6" textLength="43" lengthAdjust="spacingAndGlyphs">Otros espacios para el ocio</text><circle class="r" cx="340" cy="555" r="1.4"/></g>
<g id="C4a"><path class="u p" d="M358 551H500"/><text x="359" y="549.6" textLength="140" lengthAdjust="spacingAndGlyphs">Segundas residencias y turismo residencial en zonas costeras</text></g>
<g id="C4b"><path class="u br" d="M358 557H530"/><text x="359" y="555.6" textLength="170" lengthAdjust="spacingAndGlyphs">Nuevas formas de alojamiento: hostales, casas rurales y viviendas de uso turístico</text></g>
<g id="D"><path class="u pk" d="M120 613H272"/><text x="121" y="611.6" textLength="150" lengthAdjust="spacingAndGlyphs">2.4 Modalidades del turismo: tipos, características y su relación con el desarrollo</text><circle class="pk" cx="272" cy="613" r="1.5"/></g>
<g id="D1"><path class="u gy" d="M295 583H333"/><text x="296" y="581.6" textLength="36" lengthAdjust="spacingAndGlyphs">Turismo de masas</text><circle class="gy" cx="333" cy="583" r="1.4"/></g>
<g id="D1a"><path class="u y" d="M345 568H357"/><text x="346" y="566.6" textLength="5" lengthAdjust="spacingAndGlyphs">1.</text><circle class="y" cx="357" cy="568" r="1.4"/></g>
<g id="D1a1"><path class="u c" d="M377 565H560"/><text x="378" y="563.6" textLength="181" lengthAdjust="spacingAndGlyphs">Participación de los grandes operadores turísticos en el turismo masivo</text></g>
<g id="D1a2"><path class="u b" d="M377 571H420"/><text x="378" y="569.6" textLength="41" lengthAdjust="spacingAndGlyphs">Historia del fenómeno</text></g>
<g id="D1b"><path class="u o" d="M345 598H357"/><text x="346" y="596.6" textLength="5" lengthAdjust="spacingAndGlyphs">2.</text><circle class="o" cx="357" cy="598" r="1.4"/></g>
<g id="D1b1"><path class="u g" d="M375 580H432"/><text class="n1" x="376" y="574">1</text><text x="376" y="578.6" textLength="55" lengthAdjust="spacingAndGlyphs">Concentración espacial (ap/ref 2.3)</text><circle class="g" cx="432" cy="580" r="1.4"/></g>
<g id="D1b1a"><path class="u r" d="M450 575H565"/><text x="451" y="573.6" textLength="113" lengthAdjust="spacingAndGlyphs">Grandes desarrollos hoteleros en zonas de playa</text></g>
<g id="D1b1b"><path class="u p" d="M450 582H555"/><text x="451" y="580.6" textLength="103" lengthAdjust="spacingAndGlyphs">Infraestructura y servicios a gran escala</text></g>
<g id="D1b2"><path class="u br" d="M375 593H418"/><text class="n1" x="376" y="587">1</text><text x="376" y="591.6" textLength="41" lengthAdjust="spacingAndGlyphs">Impactos (ap/ref 2.3)</text><circle class="br" cx="418" cy="593" r="1.4"/></g>
<g id="D1b2a"><path class="u pk" d="M440 589H565"/><text x="441" y="587.6" textLength="123" lengthAdjust="spacingAndGlyphs">Sobrecarga de los recursos naturales y del patrimonio</text></g>
<g id="D1b2b"><path class="u gy" d="M440 595H600"/><text x="441" y="593.6" textLength="158" lengthAdjust="spacingAndGlyphs">Dependencia económica de los destinos respecto de los mercados emisores</text></g>
<g id="D1b3"><path class="u y" d="M375 607H480"/><text class="n1" x="376" y="601">1</text><text x="376" y="605.6" textLength="103" lengthAdjust="spacingAndGlyphs">Alternativas al modelo, diversificación (ap/ref 2.3.3)</text><circle class="y" cx="480" cy="607" r="1.4"/></g>
<g id="D1b3a"><path class="u c" d="M497 603H600"/><text x="498" y="601.6" textLength="101" lengthAdjust="spacingAndGlyphs">Programas de reconversión de destinos maduros</text></g>
<g id="D1b3b"><path class="u b" d="M497 609H595"/><text x="498" y="607.6" textLength="96" lengthAdjust="spacingAndGlyphs">Políticas de desestacionalización de la oferta</text></g>
<g id="D1b4"><path class="u o" d="M375 618H485"/><text class="n1" x="376" y="612">1</text><text x="376" y="616.6" textLength="108" lengthAdjust="spacingAndGlyphs">Elementos para la sostenibilidad del modelo (ap/ref 2.3.3)</text><circle class="o" cx="485" cy="618" r="1.4"/></g>
<g id="D1b4a"><path class="u g" d="M500 614H660"/><text x="501" y="612.6" textLength="158" lengthAdjust="spacingAndGlyphs">Certificaciones ambientales y buenas prácticas en la gestión de los establecimientos</text></g>
<g id="D1b4b"><path class="u r" d="M500 619H610"/><text x="501" y="617.6" textLength="108" lengthAdjust="spacingAndGlyphs">Capacidad de carga y gestión de visitantes</text></g>
<g id="D2"><path class="u p" d="M295 645H335"/><text x="296" y="643.6" textLength="38" lengthAdjust="spacingAndGlyphs">Tipos de turismo alternativo</text><circle class="p" cx="335" cy="645" r="1.4"/></g>
<g id="D2a"><path class="u br" d="M355 625H600"/><text x="356" y="623.6" textLength="243" lengthAdjust="spacingAndGlyphs">Más recientemente han surgido nuevas modalidades de turismo asociadas a la naturaleza, la cultura y la salud</text></g>
<g id="D2b"><path class="u pk" d="M355 637H375"/><text x="356" y="635.6" textLength="18" lengthAdjust="spacingAndGlyphs">Naturaleza</text><circle class="pk" cx="375" cy="637" r="1.4"/></g>
<g id="D2b1"><path class="u gy" d="M392 633H515"/><text x="393" y="631.6" textLength="121" lengthAdjust="spacingAndGlyphs">Ecoturismo, observación de flora y fauna, senderismo</text></g>
<g id="D2b2"><path class="u y" d="M392 639H505"/><text x="393" y="637.6" textLength="111" lengthAdjust="spacingAndGlyphs">Turismo de aventura: escalada, rafting, rappel</text></g>
<g id="D2c"><path class="u c" d="M355 649H370"/><text x="356" y="647.6" textLength="13" lengthAdjust="spacingAndGlyphs">Cultura</text><circle class="c" cx="370" cy="649" r="1.4"/></g>
<g id="D2c1"><path class="u b" d="M385 645H500"/><text x="386" y="643.6" textLength="113" lengthAdjust="spacingAndGlyphs">Visitas a museos, zonas arqueológicas y ciudades</text></g>
<g id="D2c2"><path class="u o" d="M385 651H460"/><text x="386" y="649.6" textLength="73" lengthAdjust="spacingAndGlyphs">Turismo gastronómico y enológico</text></g>
<g id="D2d"><path class="u g" d="M355 660H387"/><text x="356" y="658.6" textLength="30" lengthAdjust="spacingAndGlyphs">Turismo de salud</text><circle class="g" cx="387" cy="660" r="1.4"/></g>
<g id="D2d1"><path class="u r" d="M405 656H560"/><text x="406" y="654.6" textLength="153" lengthAdjust="spacingAndGlyphs">Balnearios, spas y centros de bienestar: el turismo médico en el mundo actual</text></g>
<g id="D2d2"><path class="u p" d="M405 662H525"/><text x="406" y="660.6" textLength="118" lengthAdjust="spacingAndGlyphs">Turismo religioso y peregrinaciones a santuarios</text></g>
<g id="E"><path class="u br" d="M120 754H272"/><text x="121" y="752.6" textLength="150" lengthAdjust="spacingAndGlyphs">2.5 Las tendencias del turismo contemporáneo: los desafíos para el futuro</text><circle class="br" cx="272" cy="754" r="1.5"/></g>
<g id="E1"><path class="u pk" d="M290 719H365"/><text x="291" y="717.6" textLength="73" lengthAdjust="spacingAndGlyphs">Expansión global del turismo (ap/ref 2.5.1)</text><circle class="pk" cx="365" cy="719" r="1.4"/></g>
<g id="E1a"><path class="u gy" d="M385 685H400"/><text x="386" y="683.6" textLength="13" lengthAdjust="spacingAndGlyphs">Las 5 S</text><circle class="gy" cx="400" cy="685" r="1.4"/></g>
<g id="E1a1"><path class="u y" d="M420 668H560"/><text x="421" y="666.6" textLength="138" lengthAdjust="spacingAndGlyphs">Descolonización de los países del sur y creación de nuevos destinos</text></g>
<g id="E1a2"><path class="u c" d="M420 684H445"/><text x="421" y="682.6" textLength="23" lengthAdjust="spacingAndGlyphs">Instituciones</text><circle class="c" cx="445" cy="684" r="1.4"/></g>
<g id="E1a2a"><path class="u b" d="M463 676H580"/><text x="464" y="674.6" textLength="115" lengthAdjust="spacingAndGlyphs">Organización Mundial del Turismo y organismos regionales</text></g>
<g id="E1a2b"><path class="u o" d="M463 681H585"/><text x="464" y="679.6" textLength="120" lengthAdjust="spacingAndGlyphs">Consejo Mundial de Viajes y Turismo (WTTC) y sus informes</text></g>
<g id="E1a2c"><path class="u g" d="M463 687H575"/><text x="464" y="685.6" textLength="110" lengthAdjust="spacingAndGlyphs">Bancos de desarrollo e inversión en infraestructura turística</text></g>
<g id="E1a2d"><path class="u r" d="M463 693H570"/><text x="464" y="691.6" textLength="105" lengthAdjust="spacingAndGlyphs">Organizaciones no gubernamentales y cooperación internacional</text></g>
<g id="E1a3"><path class="u p" d="M420 701H625"/><text x="421" y="699.6" textLength="203" lengthAdjust="spacingAndGlyphs">Nacionalidades y grupos étnicos: el turismo como factor de integración y de conflicto en las regiones del mundo</text></g>
<g id="E1b"><path class="u br" d="M385 717H420"/><text x="386" y="715.6" textLength="33" lengthAdjust="spacingAndGlyphs">Los actores del mercado</text><circle class="br" cx="420" cy="717" r="1.4"/></g>
<g id="E1b1"><path class="u pk" d="M437 709H585"/><text x="438" y="707.6" textLength="146" lengthAdjust="spacingAndGlyphs">Grandes corporaciones turísticas y su influencia en la economía de los destinos</text></g>
<g id="E1b2"><path class="u gy" d="M437 714H585"/><text x="438" y="712.6" textLength="146" lengthAdjust="spacingAndGlyphs">Estrategias de integración vertical y horizontal en la industria turística global</text></g>
<g id="E1b3"><path class="u y" d="M437 726H480"/><text x="438" y="724.6" textLength="41" lengthAdjust="spacingAndGlyphs">El mercado emergente</text><circle class="y" cx="480" cy="726" r="1.4"/></g>
<g id="E1b3a"><path class="u c" d="M500 723H600"/><text x="501" y="721.6" textLength="98" lengthAdjust="spacingAndGlyphs">China, India y Brasil como nuevos mercados emisores</text></g>
<g id="E1b3b"><path class="u b" d="M500 729H590"/><text x="501" y="727.6" textLength="88" lengthAdjust="spacingAndGlyphs">Crecimiento de la clase media en países emergentes</text></g>
<g id="E1c"><path class="u g" d="M385 751H400"/><text x="386" y="749.6" textLength="13" lengthAdjust="spacingAndGlyphs">Mercado</text><circle class="g" cx="400" cy="751" r="1.4"/></g>
<g id="E1c1"><path class="u r" d="M418 738H580"/><text x="419" y="736.6" textLength="160" lengthAdjust="spacingAndGlyphs">La demanda turística mundial: evolución reciente y proyecciones de la OMT hacia el 2030</text></g>
<g id="E1c2"><path class="u p" d="M418 750H455"/><text x="419" y="748.6" textLength="35" lengthAdjust="spacingAndGlyphs">Instituciones</text><circle class="p" cx="455" cy="750" r="1.4"/></g>
<g id="E1c2a"><path class="u br" d="M470 745H600"/><text x="471" y="743.6" textLength="128" lengthAdjust="spacingAndGlyphs">Creación de organismos nacionales de turismo y planes sectoriales</text></g>
<g id="E1c2b"><path class="u pk" d="M470 752H590"/><text x="471" y="750.6" textLength="118" lengthAdjust="spacingAndGlyphs">Cooperación internacional para el desarrollo del turismo</text></g>
<g id="E1c3"><path class="u y" d="M418 757H580"/><text x="419" y="755.6" textLength="160" lengthAdjust="spacingAndGlyphs">Creación de nuevos productos turísticos adaptados a las preferencias del viajero</text></g>
<g id="E1c4"><path class="u y" d="M418 763H600"/><text x="419" y="761.6" textLength="180" lengthAdjust="spacingAndGlyphs">Los nuevos consumidores: turismo digital, reservas en línea y redes sociales en la toma de decisiones</text></g>
<g id="E2"><path class="u c" d="M290 790H365"/><text x="291" y="788.6" textLength="73" lengthAdjust="spacingAndGlyphs">Los retos actuales (ap/ref 2.5.2)</text><circle class="c" cx="365" cy="790" r="1.4"/></g>
<g id="E2a"><path class="u b" d="M387 775H445"/><text class="n1" x="388" y="768">1</text><text x="388" y="773.6" textLength="56" lengthAdjust="spacingAndGlyphs">Instrumentos de planificación</text><circle class="b" cx="445" cy="775" r="1.4"/></g>
<g id="E2a1"><path class="u o" d="M465 769H640"/><text x="466" y="767.6" textLength="173" lengthAdjust="spacingAndGlyphs">Planes nacionales de desarrollo turístico, programas de ordenamiento territorial y estrategias regionales</text></g>
<g id="E2a2"><path class="u g" d="M465 775H605"/><text x="466" y="773.6" textLength="138" lengthAdjust="spacingAndGlyphs">Indicadores de sostenibilidad turística y sistemas de monitoreo de los destinos</text></g>
<g id="E2b"><path class="u r" d="M387 787H410"/><text class="n1" x="388" y="781">1</text><text x="388" y="785.6" textLength="21" lengthAdjust="spacingAndGlyphs">Instrumentos</text><circle class="r" cx="410" cy="787" r="1.4"/></g>
<g id="E2b1"><path class="u p" d="M430 783H590"/><text x="431" y="781.6" textLength="158" lengthAdjust="spacingAndGlyphs">Instrumentos económicos: impuestos turísticos, tasas y subsidios</text></g>
<g id="E2b2"><path class="u br" d="M430 789H540"/><text x="431" y="787.6" textLength="108" lengthAdjust="spacingAndGlyphs">Instrumentos normativos y legales del sector</text></g>
<g id="E2c"><path class="u pk" d="M387 808H412"/><text class="n1" x="388" y="802">1</text><text x="388" y="806.6" textLength="23" lengthAdjust="spacingAndGlyphs">Instrumentos sociales</text><circle class="pk" cx="412" cy="808" r="1.4"/></g>
<g id="E2c1"><path class="u gy" d="M428 797H590"/><text x="429" y="795.6" textLength="160" lengthAdjust="spacingAndGlyphs">Participación ciudadana en las decisiones sobre el desarrollo turístico local</text></g>
<g id="E2c2"><path class="u y" d="M428 802H580"/><text x="429" y="800.6" textLength="150" lengthAdjust="spacingAndGlyphs">Educación y sensibilización de los turistas y de las comunidades receptoras</text></g>
<g id="E2c3"><path class="u c" d="M428 807H575"/><text x="429" y="805.6" textLength="145" lengthAdjust="spacingAndGlyphs">Responsabilidad social de las empresas turísticas y códigos de ética</text></g>
<g id="E2c4"><path class="u b" d="M428 812H580"/><text x="429" y="810.6" textLength="150" lengthAdjust="spacingAndGlyphs">Programas de turismo social y accesible para grupos vulnerables</text></g>
<g id="E2c5"><path class="u o" d="M428 817H605"/><text x="429" y="815.6" textLength="175" lengthAdjust="spacingAndGlyphs">Nuevas tecnologías y turismo inteligente: el futuro de los destinos en el mundo (OMT, 2019)</text></g>
</svg>
